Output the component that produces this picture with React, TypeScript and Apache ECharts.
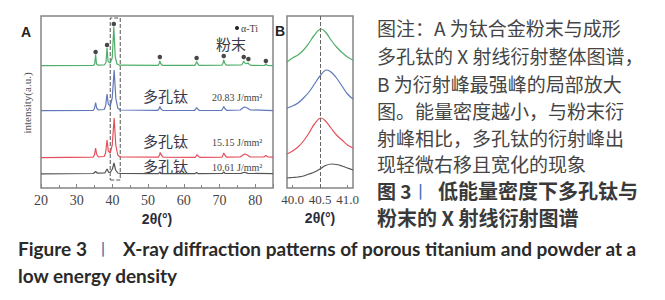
import React, { useEffect, useRef } from "react";
import * as echarts from "echarts";

// ---------- Panel A: full XRD patterns, [2θ, intensity (a.u., offset)] ----------
const powderA: number[][] = [
  [20, 122.4], [34.7, 122.6], [35.05, 124], [35.3, 133.5], [35.55, 124], [36, 122.8],
  [37.8, 123.2], [38.2, 125.5], [38.5, 140], [38.8, 126.5], [39.4, 125], [39.95, 130],
  [40.4, 161], [40.8, 131], [41.3, 124], [42, 122.8], [52.8, 122.6], [53.1, 124.5],
  [53.3, 127], [53.55, 124.5], [54, 122.6], [63.1, 122.6], [63.4, 124.5], [63.6, 126.5],
  [63.85, 124.5], [64.3, 122.6], [70.7, 122.8], [71, 125], [71.2, 128], [71.45, 125],
  [71.9, 122.8], [76.2, 123], [76.55, 125], [76.8, 127], [77.1, 125], [77.6, 124.2],
  [78, 125], [78.4, 123.3], [79, 122.6], [82.6, 122.5], [83, 124], [83.4, 122.5], [85, 122.3],
];
const porous2083A: number[][] = [
  [20, 77.3], [34.6, 77.6], [35.0, 79.5], [35.3, 85.5], [35.6, 80], [36.1, 78], [37.7, 78.5],
  [38.1, 82], [38.5, 94], [38.85, 84], [39.4, 82], [39.95, 90], [40.5, 118], [40.95, 90],
  [41.5, 80], [42.2, 78], [52.7, 77.6], [53.05, 79], [53.3, 81.5], [53.6, 79], [54.1, 77.6],
  [63, 77.5], [63.35, 79], [63.6, 80.5], [63.9, 79], [64.4, 77.5], [70.6, 77.7], [70.95, 79.5],
  [71.2, 81.5], [71.5, 79.5], [72, 77.7], [75.8, 78], [76.5, 80], [77, 81], [77.8, 80],
  [78.6, 78.2], [85, 77.3],
];
const porous1515A: number[][] = [
  [20, 30.3], [34.6, 30.8], [35.0, 33], [35.3, 40], [35.6, 33.5], [36.1, 31.2], [37.7, 31.5],
  [38.1, 35], [38.5, 48], [38.85, 37], [39.4, 35], [39.95, 43], [40.5, 70], [40.95, 43],
  [41.5, 33], [42.2, 31], [52.9, 30.8], [53.2, 33], [53.4, 35.5], [53.7, 33], [54.2, 30.8],
  [63.2, 30.6], [63.5, 32], [63.7, 33.5], [64, 32], [64.5, 30.6], [70.7, 30.8], [71, 33],
  [71.2, 35], [71.5, 33], [72, 30.8], [75.8, 31], [76.6, 33], [77.1, 34], [77.8, 33],
  [78.6, 31], [82.4, 31], [83, 32.5], [83.6, 31], [85, 30.8],
];
const porous1061A: number[][] = [
  [20, 14.2], [34.7, 14.5], [35.3, 16.5], [35.8, 14.8], [37.9, 15], [38.5, 19], [39.0, 15.5],
  [39.5, 16], [40.0, 19], [40.45, 25], [40.9, 18], [41.5, 15], [42.3, 14.5], [52.9, 14.4],
  [53.3, 16], [53.7, 14.4], [63.2, 14.4], [63.6, 15.5], [64, 14.4], [70.8, 14.5], [71.2, 16],
  [71.6, 14.5], [76, 14.6], [77, 15.8], [78, 14.6], [85, 14.3],
];
// α-Ti peak markers on the powder pattern
const alphaTiMarks: number[][] = [
  [35.3, 136], [38.5, 143], [40.4, 164], [53.3, 131], [63.6, 130], [71.2, 132],
  [76.8, 131], [78.1, 129], [83.0, 127],
];
const zoomBox = { x0: 39.4, x1: 42.2, y0: 8, y1: 170 };

// ---------- Panel B: strongest peak, enlarged ----------
const powderB: number[][] = [
  [39.9, 126], [40.0, 130], [40.1, 133], [40.2, 138], [40.3, 145], [40.4, 153], [40.52, 159],
  [40.6, 156], [40.7, 148], [40.8, 141], [40.9, 135.5], [41.0, 131], [41.1, 128],
];
const porous2083B: number[][] = [
  [39.9, 80], [40.0, 82], [40.1, 85], [40.2, 90], [40.3, 96], [40.4, 104], [40.5, 112],
  [40.62, 118], [40.7, 116], [40.8, 110], [40.9, 102], [41.0, 94], [41.1, 89],
];
const porous1515B: number[][] = [
  [39.9, 34], [40.0, 37], [40.1, 41], [40.2, 47], [40.3, 55], [40.4, 64], [40.52, 70],
  [40.6, 67], [40.7, 60], [40.8, 53], [40.9, 48], [41.0, 43], [41.1, 40],
];
const porous1061B: number[][] = [
  [39.9, 10], [40.0, 10.5], [40.1, 11], [40.2, 12], [40.3, 14], [40.4, 16], [40.5, 19],
  [40.6, 22.5], [40.72, 24], [40.8, 23.5], [40.9, 22], [41.0, 20], [41.1, 18],
];
const bTicks = [40.0, 40.5, 41.0];

// ---------- Texts ----------
const seriesLabels = ["多孔钛", "多孔钛", "多孔钛"];
const energyLabels = ["20.83 J/mm²", "15.15 J/mm²", "10.61 J/mm²"];
const captionLines = [
  "图注：A 为钛合金粉末与成形",
  "多孔钛的 X 射线衍射整体图谱，",
  "B 为衍射峰最强峰的局部放大",
  "图。能量密度越小，与粉末衍",
  "射峰相比，多孔钛的衍射峰出",
  "现轻微右移且宽化的现象",
];
const titleZh = ["图 3", "丨", "低能量密度下多孔钛与", "粉末的 X 射线衍射图谱"];
const titleEn = ["Figure 3", "丨", "X-ray diffraction patterns of porous titanium and powder at a", "low energy density"];

const GREEN = "#4fae6a";
const BLUE = "#5f78bb";
const RED = "#e4505a";
const BLACK = "#555555";
const FRAME = "#858585";
const SERIF = "Liberation Serif";
const CJK = "Noto Sans CJK SC";

export default function App() {
  const ref = useRef<HTMLDivElement>(null);
  useEffect(() => {
    if (!ref.current) return;
    const chart = echarts.init(ref.current, undefined, { renderer: "svg" });
    const lineA = (data: number[][], color: string, extra: any = {}) => ({
      type: "line", xAxisIndex: 0, yAxisIndex: 0, data, showSymbol: false, silent: true,
      lineStyle: { color, width: 1.2 }, itemStyle: { color }, ...extra,
    });
    const lineB = (data: number[][], color: string, extra: any = {}) => ({
      type: "line", xAxisIndex: 1, yAxisIndex: 1, data, showSymbol: false, silent: true, smooth: 0.4,
      lineStyle: { color, width: 1.2 }, itemStyle: { color }, ...extra,
    });
    const axisName = { color: "#2b2b3a", fontFamily: "Liberation Sans", fontWeight: "bold", fontSize: 14 };
    const labelY = [95, 140, 165];
    const captionY = [27, 55, 83, 110, 137, 163];
    const graphic: any[] = [
      { type: "text", x: 21, y: 25, style: { text: "A", fontFamily: "Liberation Sans", fontWeight: "bold", fontSize: 14, fill: "#222" } },
      { type: "text", x: 275, y: 24, style: { text: "B", fontFamily: "Liberation Sans", fontWeight: "bold", fontSize: 14, fill: "#222" } },
      { type: "text", x: 27, y: 103, rotation: Math.PI / 2, style: { text: "intensity(a.u.)", fontFamily: SERIF, fontSize: 11, fill: "#555", align: "center", verticalAlign: "middle" } },
      { type: "circle", shape: { cx: 237, cy: 28, r: 2 }, style: { fill: "#222" } },
      { type: "text", x: 241, y: 28, style: { text: "α-Ti", fontFamily: SERIF, fontSize: 10, fill: "#444", verticalAlign: "middle" } },
      { type: "text", x: 216, y: 43, style: { text: "粉末", fontFamily: CJK, fontSize: 15, fill: "#3a3a4a", verticalAlign: "middle" } },
    ];
    seriesLabels.forEach((t, i) => {
      graphic.push({ type: "text", x: 143, y: labelY[i], style: { text: t, fontFamily: CJK, fontSize: 15, fill: "#3a3a4a", verticalAlign: "middle" } });
      graphic.push({ type: "text", x: 212, y: labelY[i] + 2, style: { text: energyLabels[i], fontFamily: SERIF, fontSize: 10, fill: "#444", verticalAlign: "middle" } });
    });
    captionLines.forEach((t, i) => {
      graphic.push({ type: "text", x: 377, y: captionY[i], style: { text: t, fontFamily: CJK, fontSize: 19, fill: "#454545", verticalAlign: "middle" } });
    });
    graphic.push({ type: "text", x: 377, y: 190, style: { text: titleZh[0], fontFamily: CJK, fontWeight: "bold", fontSize: 19, fill: "#3a3a3a", verticalAlign: "middle" } });
    graphic.push({ type: "text", x: 412, y: 190, style: { text: titleZh[1], fontFamily: CJK, fontSize: 17, fill: "#3d6fb0", verticalAlign: "middle" } });
    graphic.push({ type: "text", x: 438, y: 190, style: { text: titleZh[2], fontFamily: CJK, fontWeight: "bold", fontSize: 20, fill: "#3a3a3a", verticalAlign: "middle" } });
    graphic.push({ type: "text", x: 377, y: 217, style: { text: titleZh[3], fontFamily: CJK, fontWeight: "bold", fontSize: 20, fill: "#3a3a3a", verticalAlign: "middle" } });
    graphic.push({ type: "text", x: 18, y: 248, style: { text: titleEn[0], fontFamily: "Lato", fontWeight: "bold", fontSize: 19, fill: "#2a2a2a", verticalAlign: "middle" } });
    graphic.push({ type: "text", x: 95, y: 248, style: { text: titleEn[1], fontFamily: CJK, fontSize: 16, fill: "#3d6fb0", verticalAlign: "middle" } });
    graphic.push({ type: "text", x: 123, y: 248, style: { text: titleEn[2], fontFamily: "Lato", fontWeight: "bold", fontSize: 19, fill: "#2a2a2a", verticalAlign: "middle" } });
    graphic.push({ type: "text", x: 18, y: 275, style: { text: titleEn[3], fontFamily: "Lato", fontWeight: "bold", fontSize: 19, fill: "#2a2a2a", verticalAlign: "middle" } });

    chart.setOption({
      animation: false,
      backgroundColor: "#fff",
      grid: [
        { left: 41, top: 16, width: 232, height: 172, show: true, borderColor: FRAME, borderWidth: 1.5 },
        { left: 287, top: 16, width: 66, height: 172, show: true, borderColor: FRAME, borderWidth: 1.5 },
      ],
      xAxis: [
        {
          gridIndex: 0, type: "value", min: 20, max: 85, interval: 10,
          axisLine: { show: false },
          axisTick: { show: true, inside: true, length: 4, lineStyle: { color: FRAME } },
          minorTick: { show: true, splitNumber: 2, length: 3, lineStyle: { color: FRAME } },
          splitLine: { show: false },
          axisLabel: { color: "#444", fontFamily: SERIF, fontSize: 14, margin: 5, showMaxLabel: false },
          name: "2θ(°)", nameLocation: "middle", nameGap: 15, nameTextStyle: axisName,
        },
        {
          gridIndex: 1, type: "value", min: 39.9, max: 41.1,
          axisLine: { show: false },
          axisTick: { show: true, inside: true, length: 3, customValues: bTicks, lineStyle: { color: FRAME } },
          splitLine: { show: false },
          axisLabel: {
            color: "#444", fontFamily: SERIF, fontSize: 13, margin: 5, customValues: bTicks,
            formatter: (v: number) => v.toFixed(1),
          },
          name: "2θ(°)", nameLocation: "middle", nameGap: 15, nameTextStyle: axisName,
        },
      ],
      yAxis: [
        { gridIndex: 0, type: "value", min: 0, max: 172, show: false },
        { gridIndex: 1, type: "value", min: 0, max: 172, show: false },
      ],
      series: [
        lineA(powderA, GREEN, {
          markArea: {
            silent: true,
            itemStyle: { color: "rgba(0,0,0,0)", borderColor: "#555", borderType: "dashed", borderWidth: 1 },
            data: [[{ xAxis: zoomBox.x0, yAxis: zoomBox.y0 }, { xAxis: zoomBox.x1, yAxis: zoomBox.y1 }]],
          },
        }),
        lineA(porous2083A, BLUE),
        lineA(porous1515A, RED),
        lineA(porous1061A, BLACK),
        {
          type: "scatter", xAxisIndex: 0, yAxisIndex: 0, data: alphaTiMarks, symbol: "circle",
          symbolSize: 4.5, itemStyle: { color: "#1a1a1a" }, silent: true,
        },
        lineB(powderB, GREEN, {
          markLine: {
            silent: true, symbol: ["none", "none"], label: { show: false },
            lineStyle: { type: "dashed", color: "#666", width: 1 },
            data: [{ xAxis: 40.5 }],
          },
        }),
        lineB(porous2083B, BLUE),
        lineB(porous1515B, RED),
        lineB(porous1061B, BLACK),
      ],
      graphic,
    });
    return () => chart.dispose();
  }, []);
  return (
    <div
      ref={ref}
      style={{ position: "fixed", left: 0, top: 0, width: 665, height: 300, background: "#fff" }}
    />
  );
}
